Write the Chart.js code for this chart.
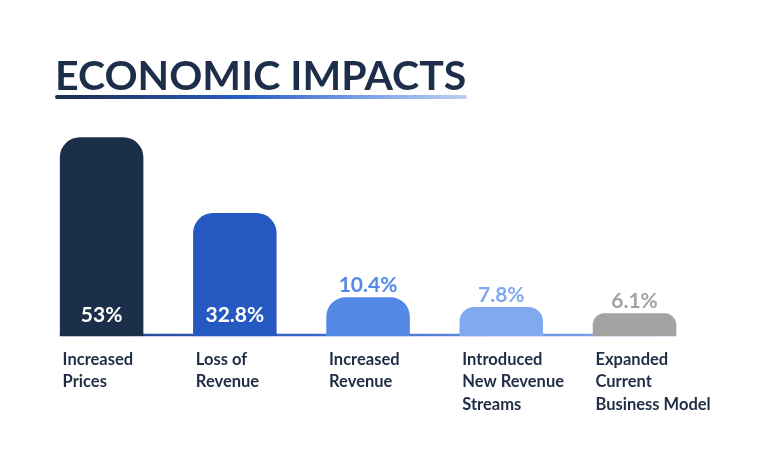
<!DOCTYPE html>
<html>
<head>
<meta charset="utf-8">
<script src="https://cdn.jsdelivr.net/npm/chart.js@4/dist/chart.umd.min.js"></script>
<style>
  html, body { margin:0; padding:0; background:#fff; }
  #wrap { position:relative; width:768px; height:468px; overflow:hidden; }
  #title {
    position:absolute; left:55px; top:54px; margin:0;
    font-family:Lato, sans-serif; font-weight:700; font-size:41px; line-height:41px;
    color:#1c2e4a; white-space:nowrap;
  }
  #rule {
    position:absolute; left:55px; top:95px; width:412px; height:4px; border-radius:2px;
    background:linear-gradient(90deg,#1c2e4a 0%,#2a5cc4 45%,#7aa2ea 75%,#bccff2 100%);
  }
  #chart { position:absolute; left:0; top:0; }
</style>
</head>
<body>
<div id="wrap">
  <canvas id="chart" width="768" height="468"></canvas>
  <h1 id="title">ECONOMIC IMPACTS</h1>
  <div id="rule"></div>
</div>
<script>
// data
const categories = [
  ["Increased", "Prices"],
  ["Loss of", "Revenue"],
  ["Increased", "Revenue"],
  ["Introduced", "New Revenue", "Streams"],
  ["Expanded", "Current", "Business Model"]
];
const values = [53, 32.8, 10.4, 7.8, 6.1];
const valueLabels = ["53%", "32.8%", "10.4%", "7.8%", "6.1%"];
const barColors = ["#1b2f4b", "#2558c0", "#5488e6", "#80a9f0", "#a3a3a3"];

// gradient line under the bars
const baseLine = {
  id: "baseLine",
  beforeDatasetsDraw(chart) {
    const bars = chart.getDatasetMeta(0).data;
    const first = bars[0], last = bars[bars.length - 1];
    const x0 = first.x - first.width / 2, x1 = last.x + last.width / 2;
    const y = chart.scales.y.getPixelForValue(0) - 1.2;
    const ctx = chart.ctx;
    const g = ctx.createLinearGradient(x0, 0, x1, 0);
    g.addColorStop(0, "#1f3f80");
    g.addColorStop(0.4, "#3566c8");
    g.addColorStop(1, "#8cb0f2");
    ctx.save();
    ctx.strokeStyle = g;
    ctx.lineWidth = 2.5;
    ctx.beginPath();
    ctx.moveTo(x0, y);
    ctx.lineTo(x1, y);
    ctx.stroke();
    ctx.restore();
  }
};

// value labels: inside tall bars, above short ones
const valueText = {
  id: "valueText",
  afterDatasetsDraw(chart) {
    const ctx = chart.ctx;
    ctx.save();
    ctx.font = "bold 21px Lato, sans-serif";
    ctx.textAlign = "center";
    ctx.textBaseline = "alphabetic";
    chart.getDatasetMeta(0).data.forEach((bar, i) => {
      const h = bar.base - bar.y;
      if (h > 60) {
        ctx.fillStyle = "#ffffff";
        ctx.fillText(valueLabels[i], bar.x, bar.base - 14);
      } else {
        ctx.fillStyle = barColors[i];
        ctx.fillText(valueLabels[i], bar.x, bar.y - 5);
      }
    });
    ctx.restore();
  }
};

new Chart(document.getElementById("chart"), {
  type: "bar",
  data: {
    labels: categories,
    datasets: [{
      data: values,
      backgroundColor: barColors,
      borderRadius: { topLeft: 20, topRight: 20, bottomLeft: 0, bottomRight: 0 },
      borderSkipped: "bottom",
      barPercentage: 0.627,
      categoryPercentage: 1
    }]
  },
  options: {
    responsive: false,
    animation: false,
    events: [],
    layout: { padding: { left: 35, right: 63, top: 111, bottom: 40 } },
    plugins: { legend: { display: false }, tooltip: { enabled: false }, title: { display: false } },
    scales: {
      y: { display: false, min: 0, max: 60 },
      x: {
        grid: { display: false, drawTicks: false },
        border: { display: false },
        ticks: {
          align: "start",
          labelOffset: -39,
          padding: 12,
          color: "#1f2d45",
          font: { family: "Lato, sans-serif", size: 16.5, weight: "bold", lineHeight: 1.37 }
        }
      }
    }
  },
  plugins: [baseLine, valueText]
});
</script>
</body>
</html>
